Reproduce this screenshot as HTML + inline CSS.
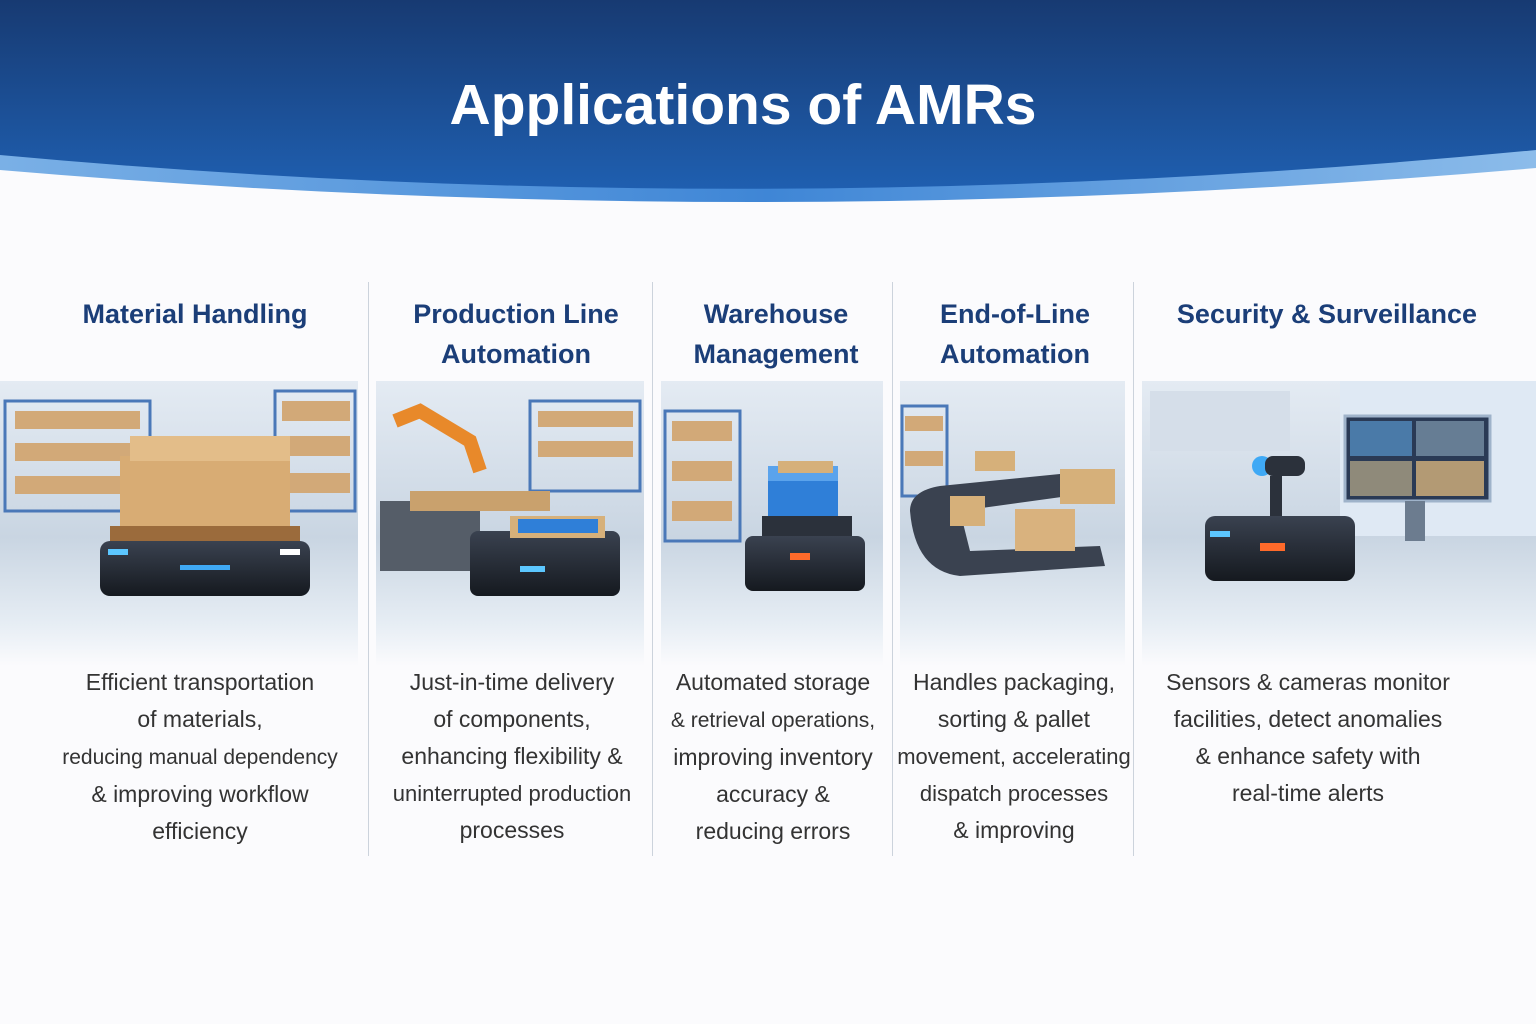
<!DOCTYPE html>
<html><head><meta charset="utf-8"><style>
*{margin:0;padding:0;box-sizing:border-box}
body{width:1536px;height:1024px;overflow:hidden;background:#fbfbfd;font-family:"Liberation Sans",sans-serif;position:relative}
.h{position:absolute;top:0;left:0}
.title{position:absolute;top:72px;left:0;width:1486px;text-align:center;color:#fff;font-weight:bold;font-size:57px}
.hd{position:absolute;top:294px;text-align:center;color:#1b3e78;font-weight:bold;font-size:27px;line-height:40px}
.tx{position:absolute;top:664px;text-align:center;color:#333;font-size:23px;line-height:37px}
.dv{position:absolute;top:282px;width:1px;height:574px;background:#ccd3dc}
.img{position:absolute;top:381px;height:285px}
</style></head><body>
<svg class="h" width="1536" height="220" viewBox="0 0 1536 220">
<defs><linearGradient id="hg" x1="0" y1="0" x2="0" y2="1"><stop offset="0" stop-color="#173a72"/><stop offset="1" stop-color="#1f5fb0"/></linearGradient>
<linearGradient id="bg2" x1="0" y1="0" x2="1" y2="0"><stop offset="0" stop-color="#7ab0e6"/><stop offset=".5" stop-color="#3f86d6"/><stop offset="1" stop-color="#8cbcea"/></linearGradient></defs>
<path d="M0 0H1536V168Q760 235 0 170Z" fill="url(#bg2)"/>
<path d="M0 0H1536V150Q760 225 0 155Z" fill="url(#hg)"/>
</svg>
<div class="title">Applications of AMRs</div>

<div class="dv" style="left:368px"></div><div class="dv" style="left:652px"></div><div class="dv" style="left:892px"></div><div class="dv" style="left:1133px"></div>

<div class="hd" style="left:40px;width:310px">Material Handling</div>
<div class="hd" style="left:376px;width:280px">Production Line<br>Automation</div>
<div class="hd" style="left:661px;width:230px">Warehouse<br>Management</div>
<div class="hd" style="left:900px;width:230px">End-of-Line<br>Automation</div>
<div class="hd" style="left:1142px;width:370px">Security &amp; Surveillance</div>

<svg class="img" style="left:0" width="1536" height="285" viewBox="0 0 1536 285">
<defs>
<linearGradient id="ib" x1="0" y1="0" x2="0" y2="1"><stop offset="0" stop-color="#e4ebf3"/><stop offset=".55" stop-color="#c9d5e2"/><stop offset=".85" stop-color="#e6edf4"/><stop offset="1" stop-color="#fbfbfd"/></linearGradient>
<linearGradient id="rb" x1="0" y1="0" x2="0" y2="1"><stop offset="0" stop-color="#3a4250"/><stop offset="1" stop-color="#15191f"/></linearGradient>
</defs>
<rect x="0" y="0" width="358" height="285" fill="url(#ib)"/>
<rect x="376" y="0" width="268" height="285" fill="url(#ib)"/>
<rect x="661" y="0" width="222" height="285" fill="url(#ib)"/>
<rect x="900" y="0" width="225" height="285" fill="url(#ib)"/>
<rect x="1142" y="0" width="394" height="285" fill="url(#ib)"/>
<g fill="#b98e5e" stroke="#4a78b8" stroke-width="3">
<rect x="5" y="20" width="145" height="110" fill="none"/><rect x="275" y="10" width="80" height="120" fill="none"/>
<rect x="530" y="20" width="110" height="90" fill="none"/><rect x="665" y="30" width="75" height="130" fill="none"/>
<rect x="902" y="25" width="45" height="90" fill="none"/><rect x="1150" y="10" width="140" height="60" fill="#d5dee9" stroke="none"/>
</g>
<g fill="#d2a978">
<rect x="15" y="30" width="125" height="18"/><rect x="15" y="62" width="125" height="18"/><rect x="15" y="95" width="125" height="18"/>
<rect x="282" y="20" width="68" height="20"/><rect x="282" y="55" width="68" height="20"/><rect x="282" y="92" width="68" height="20"/>
<rect x="538" y="30" width="95" height="16"/><rect x="538" y="60" width="95" height="16"/><rect x="672" y="40" width="60" height="20"/><rect x="672" y="80" width="60" height="20"/><rect x="672" y="120" width="60" height="20"/>
<rect x="905" y="35" width="38" height="15"/><rect x="905" y="70" width="38" height="15"/>
</g>
<rect x="120" y="75" width="170" height="80" fill="#d8ac74"/><rect x="130" y="55" width="160" height="25" fill="#e3bd89"/>
<rect x="110" y="145" width="190" height="15" fill="#9b6b3c"/>
<rect x="100" y="160" width="210" height="55" rx="10" fill="url(#rb)"/>
<rect x="108" y="168" width="20" height="6" fill="#5cc7ff"/><rect x="180" y="184" width="50" height="5" fill="#3fa9f5"/><rect x="280" y="168" width="20" height="6" fill="#fff"/>
<path d="M395 40 L420 30 L470 60 L480 90" stroke="#e8892a" stroke-width="14" fill="none"/>
<rect x="380" y="120" width="100" height="70" fill="#555d68"/>
<rect x="410" y="110" width="140" height="20" fill="#c9a16d"/>
<rect x="470" y="150" width="150" height="65" rx="8" fill="url(#rb)"/>
<rect x="510" y="135" width="95" height="22" fill="#d6b07a"/><rect x="518" y="138" width="80" height="14" fill="#2f7fd8"/>
<rect x="520" y="185" width="25" height="6" fill="#5cc7ff"/>
<rect x="768" y="85" width="70" height="50" fill="#2f7fd8"/><rect x="768" y="85" width="70" height="15" fill="#5aa3ec"/><rect x="778" y="80" width="55" height="12" fill="#d6b07a"/>
<rect x="762" y="135" width="90" height="25" fill="#2b313b"/>
<rect x="745" y="155" width="120" height="55" rx="8" fill="url(#rb)"/><rect x="790" y="172" width="20" height="7" fill="#ff6a2a"/>
<path d="M910 130 Q910 110 940 105 L1090 90 L1105 110 L960 130 L970 170 L1100 165 L1105 185 L960 195 Q915 190 910 130Z" fill="#3a4250"/>
<rect x="950" y="115" width="35" height="30" fill="#d6b07a"/><rect x="1015" y="128" width="60" height="42" fill="#d9b27e"/><rect x="1060" y="88" width="55" height="35" fill="#d6b07a"/><rect x="975" y="70" width="40" height="20" fill="#d6b07a"/>
<rect x="1340" y="0" width="196" height="155" fill="#dfe9f4"/>
<rect x="1345" y="35" width="145" height="85" fill="#2a3a55" stroke="#9fb3ca" stroke-width="3"/>
<rect x="1350" y="40" width="62" height="35" fill="#4a7aa8"/><rect x="1416" y="40" width="68" height="35" fill="#667d94"/><rect x="1350" y="80" width="62" height="35" fill="#8f8a7a"/><rect x="1416" y="80" width="68" height="35" fill="#b39a74"/>
<rect x="1405" y="120" width="20" height="40" fill="#6c7c8f"/>
<circle cx="1262" cy="85" r="10" fill="#3fa9f5"/><rect x="1265" y="75" width="40" height="20" rx="8" fill="#2b313b"/><rect x="1270" y="95" width="12" height="40" fill="#2b313b"/>
<rect x="1205" y="135" width="150" height="65" rx="10" fill="url(#rb)"/><rect x="1260" y="162" width="25" height="8" fill="#ff6a2a"/><rect x="1210" y="150" width="20" height="6" fill="#5cc7ff"/>
</svg>

<div class="tx" style="left:30px;width:340px">Efficient transportation<br>of materials,<br><span style="font-size:21px">reducing manual dependency</span><br>&amp; improving workflow<br>efficiency</div>
<div class="tx" style="left:376px;width:272px">Just-in-time delivery<br>of components,<br>enhancing flexibility &amp;<br><span style="font-size:22px">uninterrupted production</span><br>processes</div>
<div class="tx" style="left:660px;width:226px"><span>Automated storage</span><br><span style="font-size:21px">&amp; retrieval operations,</span><br>improving inventory<br>accuracy &amp;<br>reducing errors</div>
<div class="tx" style="left:896px;width:236px">Handles packaging,<br>sorting &amp; pallet<br><span style="font-size:22px">movement, accelerating</span><br><span style="font-size:22px">dispatch processes</span><br>&amp; improving</div>
<div class="tx" style="left:1140px;width:336px">Sensors &amp; cameras monitor<br>facilities, detect anomalies<br>&amp; enhance safety with<br>real-time alerts</div>
</body></html>
